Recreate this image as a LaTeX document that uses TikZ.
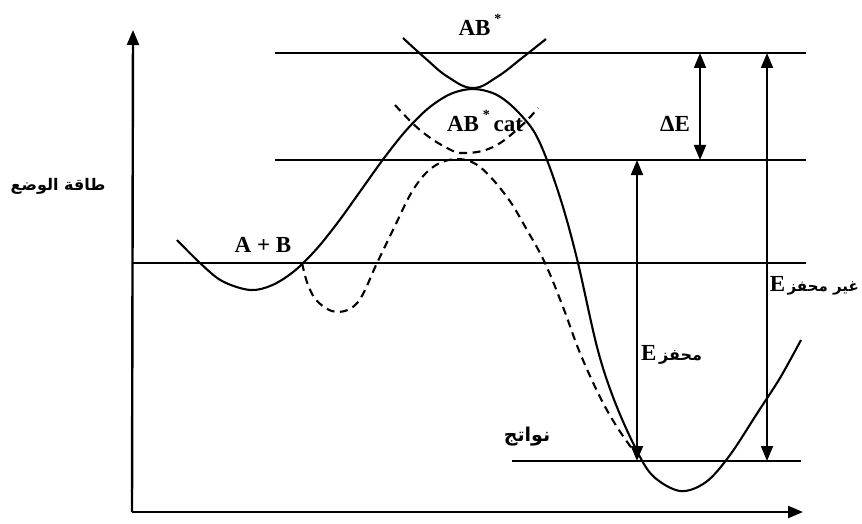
\documentclass[tikz,border=0pt]{standalone}
\usepackage{fontspec}
\setmainfont{Liberation Serif}
\newfontfamily\arabicfont[Script=Arabic]{DejaVu Sans}
\TeXXeTstate=1
\usetikzlibrary{arrows.meta}
\newcommand\bigEletter{{\rmfamily\bfseries\fontsize{23}{26}\selectfont E}}
\newcommand\raisedstar{\raisebox{0.55em}{\fontsize{14}{14}\selectfont *}}
\begin{document}
\begin{tikzpicture}[x=1pt,y=-1pt,
  ln/.style={line width=2pt},
  crv/.style={line width=2.1pt},
  dsh/.style={line width=2.1pt,dash pattern=on 8pt off 5.5pt},
  tip/.style={-{Triangle[length=15pt,width=12pt]}},
  dtip/.style={{Triangle[length=15pt,width=12pt]}-{Triangle[length=15pt,width=12pt]}},
  lbl/.style={font=\bfseries\fontsize{23}{26}\selectfont,inner sep=0pt},
  albl/.style={font=\arabicfont\bfseries\fontsize{16}{19}\selectfont,inner sep=0pt}]
\useasboundingbox (0,0) rectangle (862,524);
% axes
\coordinate (O) at (132,512);
\coordinate (Ytop) at (133,30);
\coordinate (Xend) at (803,512);
\draw[line width=2.4pt,tip] (O) -- (Ytop);
\draw[line width=2.4pt,tip] (O) -- (Xend);
% level lines
\coordinate (L1a) at (275,53);  \coordinate (L1b) at (806,53);
\coordinate (L2a) at (275,160); \coordinate (L2b) at (806,160);
\coordinate (L3a) at (132,263); \coordinate (L3b) at (806,263);
\coordinate (L4a) at (512,461); \coordinate (L4b) at (801,461);
\draw[ln] (L1a) -- (L1b);
\draw[ln] (L2a) -- (L2b);
\draw[ln] (L3a) -- (L3b);
\draw[ln] (L4a) -- (L4b);
% uncatalysed curve
\draw[crv] plot[smooth,tension=0.55] coordinates {(177,240) (200,263) (222,281) (250,290) (272.3,285.1) (294.6,270.8) (316.9,248.6) (339.2,220.6) (361.5,189.5) (383.8,158.4) (406.1,130.4) (428.4,108.2) (450.7,93.9) (473,89) (495,94) (513,107) (533,130) (547,160) (563,207) (578,263) (597,347) (613,397) (633,443) (652,475) (680,491) (706,482) (730,455) (758,412) (780,378) (801,340)};
% upper parabola AB*
\draw[crv] plot[smooth,tension=0.7] coordinates {(403,38) (425,58) (448,77) (473,88) (497,77) (522,58) (546,39)};
% catalysed curve
\draw[dsh] plot[smooth,tension=0.6] coordinates {(302,263) (308,285) (318,302) (337,312) (358,302) (377,263) (393,230) (413,190) (433,167) (457,159) (480,167) (507,197) (527,230) (545,263) (563,307) (580,353) (600,397) (617,427) (633,450)};
% dashed parabola AB* cat
\draw[dsh] plot[smooth,tension=0.7] coordinates {(395,105) (420,130) (447,148) (465,153) (493,147) (520,127) (538,108)};
% energy arrows
\coordinate (dEt) at (700,53);  \coordinate (dEb) at (700,160);
\coordinate (Eut) at (767,53);  \coordinate (Eub) at (767,461);
\coordinate (Ect) at (637,160); \coordinate (Ecb) at (637,461);
\draw[line width=1.8pt,dtip] (dEt) -- (dEb);
\draw[line width=1.8pt,dtip] (Eut) -- (Eub);
\draw[line width=1.8pt,dtip] (Ect) -- (Ecb);
% labels
\node[lbl] (ABs) at (480,25) {AB\,\raisedstar};
\node[lbl] (ABc) at (485,121) {AB\,\raisedstar\,cat};
\node[lbl] (AB) at (263,245) {A + B};
\node[lbl] (dE) at (675,124) {ΔE};
\node[albl] (pe) at (58,186) {\beginR طاقة الوضع\endR};
\node[albl,anchor=east,font=\arabicfont\bfseries\fontsize{15}{18}\selectfont] (Eu) at (859,286) {\bigEletter\,\beginR غير محفز\endR};
\node[albl,anchor=west] (Ec) at (641,355) {\bigEletter\,\beginR محفز\endR};
\node[albl,font=\arabicfont\bfseries\fontsize{19}{22}\selectfont] (pr) at (527,437) {\beginR نواتج\endR};
\end{tikzpicture}
\end{document}
